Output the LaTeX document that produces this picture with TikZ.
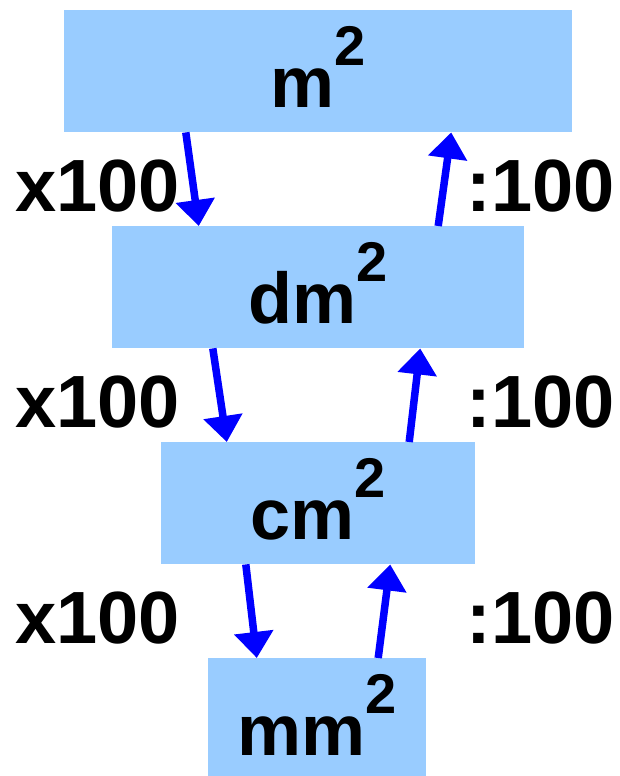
\documentclass[tikz,border=0pt]{standalone}
\usepackage{fontspec}
\setmainfont{Liberation Sans}
\usepackage{xcolor}
\usetikzlibrary{arrows.meta}
\definecolor{boxblue}{HTML}{99CCFF}
\definecolor{arrowblue}{HTML}{0000FF}
\newcommand{\sqtwo}{\raisebox{42pt}{\fontsize{56}{56}\selectfont 2}}
\begin{document}
\begin{tikzpicture}[x=1pt,y=-1pt,
  unit/.style={fill=boxblue,inner sep=0pt,minimum height=122pt,text height=97pt,text depth=25pt,
    font=\bfseries\fontsize{72}{72}\selectfont,anchor=north},
  factor/.style={inner sep=0pt,font=\bfseries\fontsize{74}{74}\selectfont},
  conv/.style={draw=arrowblue,line width=7.5pt,-{Triangle[width=38pt,length=26pt]}}]
\useasboundingbox (0,0) rectangle (620,776);
% unit boxes
\node[unit,minimum width=508pt] (m)  at (318,10)  {m\sqtwo};
\node[unit,minimum width=412pt] (dm) at (318,226) {dm\sqtwo};
\node[unit,minimum width=314pt] (cm) at (318,442) {cm\sqtwo};
\node[unit,minimum width=218pt] (mm) at (317,658) {mm\sqtwo};
% factors
\node[factor,anchor=base west] (times1) at (15,211) {x100};
\node[factor,anchor=base west] (times2) at (15,427) {x100};
\node[factor,anchor=base west] (times3) at (15,643) {x100};
\node[factor,anchor=base east] (div1) at (615,211) {:100};
\node[factor,anchor=base east] (div2) at (615,427) {:100};
\node[factor,anchor=base east] (div3) at (615,643) {:100};
% down: multiply
\draw[conv] ([xshift=122pt]m.south west) -- ([xshift=87pt]dm.north west);
\draw[conv] ([xshift=101pt]dm.south west) -- ([xshift=66pt]cm.north west);
\draw[conv] ([xshift=85pt]cm.south west) -- ([xshift=49pt]mm.north west);
% up: divide
\draw[conv] ([xshift=-86pt]dm.north east) -- ([xshift=-121pt]m.south east);
\draw[conv] ([xshift=-66pt]cm.north east) -- ([xshift=-104pt]dm.south east);
\draw[conv] ([xshift=-48pt]mm.north east) -- ([xshift=-85pt]cm.south east);
\end{tikzpicture}
\end{document}
